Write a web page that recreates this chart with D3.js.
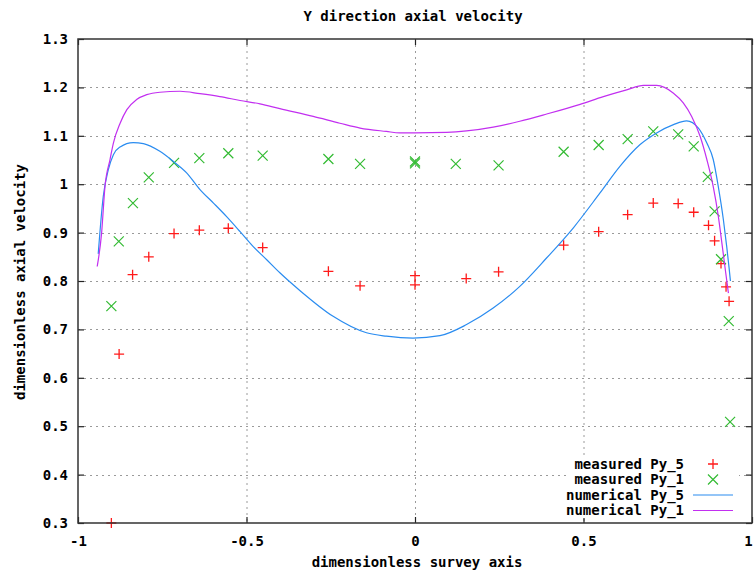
<!DOCTYPE html>
<html>
<head>
<meta charset="utf-8">
<script src="https://cdn.jsdelivr.net/npm/d3@7"></script>
<style>
  html, body { margin: 0; padding: 0; background: #fff; }
  svg text { font-family: "DejaVu Sans Mono", monospace; font-weight: bold; font-size: 14px; fill: #000; }
</style>
</head>
<body>
<svg id="chart" width="754" height="572"></svg>
<script>
// Measured velocity profiles (red "+" and green "x" markers)
const py5X = [-0.901, -0.878, -0.838, -0.790, -0.715, -0.640, -0.554, -0.452, -0.257, -0.163, 0.000, 0.000, 0.152, 0.248, 0.441, 0.545, 0.631, 0.707, 0.781, 0.827, 0.871, 0.889, 0.908, 0.923, 0.932];
const py5Y = [0.300, 0.649, 0.813, 0.850, 0.898, 0.905, 0.909, 0.869, 0.820, 0.790, 0.811, 0.792, 0.805, 0.819, 0.874, 0.902, 0.937, 0.961, 0.960, 0.942, 0.915, 0.883, 0.836, 0.788, 0.758];
const py1X = [-0.901, -0.879, -0.837, -0.790, -0.715, -0.640, -0.554, -0.452, -0.257, -0.163, 0.000, 0.000, 0.121, 0.248, 0.441, 0.545, 0.631, 0.707, 0.781, 0.827, 0.869, 0.889, 0.908, 0.931, 0.935];
const py1Y = [0.748, 0.882, 0.961, 1.014, 1.044, 1.054, 1.064, 1.059, 1.052, 1.042, 1.047, 1.043, 1.042, 1.039, 1.067, 1.081, 1.093, 1.109, 1.103, 1.078, 1.015, 0.944, 0.845, 0.717, 0.509];

// Numerical solutions (curves)
const numPy5X = [-0.940, -0.925, -0.910, -0.895, -0.875, -0.836, -0.806, -0.757, -0.717, -0.677, -0.638, -0.598, -0.559, -0.519, -0.480, -0.440, -0.401, -0.341, -0.243, -0.144, -0.085, -0.006, 0.074, 0.153, 0.232, 0.311, 0.391, 0.470, 0.549, 0.608, 0.668, 0.717, 0.767, 0.806, 0.841, 0.866, 0.885, 0.900, 0.915, 0.925, 0.932, 0.936];
const numPy5Y = [0.856, 0.975, 1.030, 1.061, 1.077, 1.086, 1.084, 1.068, 1.047, 1.023, 0.989, 0.961, 0.933, 0.902, 0.871, 0.844, 0.817, 0.780, 0.727, 0.693, 0.686, 0.682, 0.687, 0.710, 0.744, 0.789, 0.848, 0.910, 0.982, 1.037, 1.082, 1.106, 1.123, 1.131, 1.116, 1.085, 1.051, 0.995, 0.927, 0.871, 0.827, 0.800];
const numPy1X = [-0.943, -0.930, -0.920, -0.905, -0.895, -0.875, -0.855, -0.826, -0.796, -0.757, -0.697, -0.638, -0.579, -0.519, -0.460, -0.401, -0.302, -0.223, -0.163, -0.085, -0.045, 0.000, 0.094, 0.153, 0.232, 0.311, 0.391, 0.490, 0.559, 0.628, 0.678, 0.717, 0.767, 0.796, 0.821, 0.846, 0.866, 0.885, 0.900, 0.912, 0.922, 0.930];
const numPy1Y = [0.830, 0.899, 0.995, 1.051, 1.085, 1.126, 1.154, 1.175, 1.185, 1.190, 1.192, 1.187, 1.181, 1.173, 1.166, 1.156, 1.140, 1.126, 1.116, 1.109, 1.106, 1.106, 1.107, 1.110, 1.118, 1.130, 1.145, 1.165, 1.181, 1.195, 1.204, 1.204, 1.188, 1.168, 1.140, 1.099, 1.051, 0.995, 0.934, 0.871, 0.817, 0.775];

// Axis ticks
const xTicks = [-1, -0.5, 0, 0.5, 1];
const xTickLabels = ["-1", "-0.5", "0", "0.5", "1"];
const yTicks = [0.3, 0.4, 0.5, 0.6, 0.7, 0.8, 0.9, 1.0, 1.1, 1.2, 1.3];
const yTickLabels = ["0.3", "0.4", "0.5", "0.6", "0.7", "0.8", "0.9", "1", "1.1", "1.2", "1.3"];

const seriesNames = ["measured Py_5", "measured Py_1", "numerical Py_5", "numerical Py_1"];
const colors = { red: "#ff1a1a", green: "#33bb33", blue: "#2a8cf0", magenta: "#c22ff0" };

const svg = d3.select("#chart");
const plotL = 78, plotR = 752, plotT = 39, plotB = 523;

const x = d3.scaleLinear().domain([-1, 1]).range([plotL, plotR]);
const y = d3.scaleLinear().domain([0.3, 1.3]).range([plotB, plotT]);

// Title and axis labels
svg.append("text").attr("x", 413).attr("y", 21).attr("text-anchor", "middle")
  .text("Y direction axial velocity");
svg.append("text").attr("x", 417).attr("y", 567).attr("text-anchor", "middle")
  .text("dimensionless survey axis");
svg.append("text").attr("transform", "translate(25,282) rotate(-90)").attr("text-anchor", "middle")
  .text("dimensionless axial velocity");

// Grid (dotted)
const grid = svg.append("g").attr("stroke", "#9a9a9a").attr("stroke-width", 1).attr("stroke-dasharray", "2,4");
grid.selectAll("line.gx").data(xTicks.slice(1, -1)).join("line")
  .attr("x1", d => x(d) + 0.5).attr("x2", d => x(d) + 0.5).attr("y1", plotT).attr("y2", plotB);
grid.selectAll("line.gy").data(yTicks.slice(1, -1)).join("line")
  .attr("y1", d => Math.round(y(d)) + 0.5).attr("y2", d => Math.round(y(d)) + 0.5).attr("x1", plotL).attr("x2", plotR);

// Axes: inward ticks, mirrored on opposite sides
const tick = 6;
const axisLeft = d3.axisLeft(y).tickValues(yTicks).tickSizeInner(-tick).tickSizeOuter(0)
  .tickFormat((d, i) => yTickLabels[i]).tickPadding(10);
const gL = svg.append("g").attr("transform", `translate(${plotL},0)`).call(axisLeft);
const axisRight = d3.axisRight(y).tickValues(yTicks).tickSizeInner(-tick).tickSizeOuter(0).tickFormat("");
const gR = svg.append("g").attr("transform", `translate(${plotR},0)`).call(axisRight);
const axisBottom = d3.axisBottom(x).tickValues(xTicks).tickSizeInner(-tick).tickSizeOuter(0)
  .tickFormat((d, i) => xTickLabels[i]).tickPadding(13);
const gB = svg.append("g").attr("transform", `translate(0,${plotB})`).call(axisBottom);
const axisTop = d3.axisTop(x).tickValues(xTicks).tickSizeInner(-tick).tickSizeOuter(0).tickFormat("");
const gT = svg.append("g").attr("transform", `translate(0,${plotT})`).call(axisTop);
[gL, gR, gB, gT].forEach(g => {
  g.select(".domain").remove();
  g.selectAll(".tick line").attr("stroke", "#222").attr("stroke-width", 1.2);
  g.selectAll("text").attr("font-family", "DejaVu Sans Mono, monospace").attr("font-weight", "bold")
    .attr("font-size", 14).attr("fill", "#000");
});
// keep the last x label inside the canvas edge
gB.selectAll(".tick text").filter(d => d === 1).attr("dx", -4);

// Legend box (opaque background)
svg.append("rect").attr("x", 567).attr("y", 456).attr("width", 172).attr("height", 62).attr("fill", "#fff");

// Markers
function plus(g, cx, cy, color) {
  g.append("path").attr("d", `M${cx - 5},${cy}H${cx + 5}M${cx},${cy - 5}V${cy + 5}`)
    .attr("stroke", color).attr("stroke-width", 1.3).attr("fill", "none");
}
function cross(g, cx, cy, color) {
  g.append("path").attr("d", `M${cx - 5},${cy - 5}L${cx + 5},${cy + 5}M${cx - 5},${cy + 5}L${cx + 5},${cy - 5}`)
    .attr("stroke", color).attr("stroke-width", 1.2).attr("fill", "none");
}

const gP5 = svg.append("g");
py5X.forEach((d, i) => plus(gP5, x(d), y(py5Y[i]), colors.red));
const gP1 = svg.append("g");
py1X.forEach((d, i) => cross(gP1, x(d), y(py1Y[i]), colors.green));

// Curves
const line = d3.line().x(d => x(d[0])).y(d => y(d[1])).curve(d3.curveMonotoneX);
svg.append("path").datum(numPy5X.map((d, i) => [d, numPy5Y[i]]))
  .attr("d", line).attr("fill", "none").attr("stroke", colors.blue).attr("stroke-width", 1.2);
svg.append("path").datum(numPy1X.map((d, i) => [d, numPy1Y[i]]))
  .attr("d", line).attr("fill", "none").attr("stroke", colors.magenta).attr("stroke-width", 1.2);

// Border
svg.append("path").attr("d", `M${plotL},${plotT}H${plotR}V${plotB}H${plotL}Z`)
  .attr("fill", "none").attr("stroke", "#333").attr("stroke-width", 1.5);

// Legend entries
const legY = [464, 479.5, 495, 510.5];
const legend = svg.append("g");
seriesNames.forEach((name, i) => {
  legend.append("text").attr("x", 684).attr("y", legY[i]).attr("dy", "0.35em")
    .attr("text-anchor", "end").text(name);
});
plus(legend, 713, legY[0], colors.red);
cross(legend, 713, legY[1], colors.green);
legend.append("line").attr("x1", 693).attr("x2", 733).attr("y1", legY[2]).attr("y2", legY[2])
  .attr("stroke", colors.blue).attr("stroke-width", 1.2);
legend.append("line").attr("x1", 693).attr("x2", 733).attr("y1", legY[3]).attr("y2", legY[3])
  .attr("stroke", colors.magenta).attr("stroke-width", 1.2);
</script>
</body>
</html>
